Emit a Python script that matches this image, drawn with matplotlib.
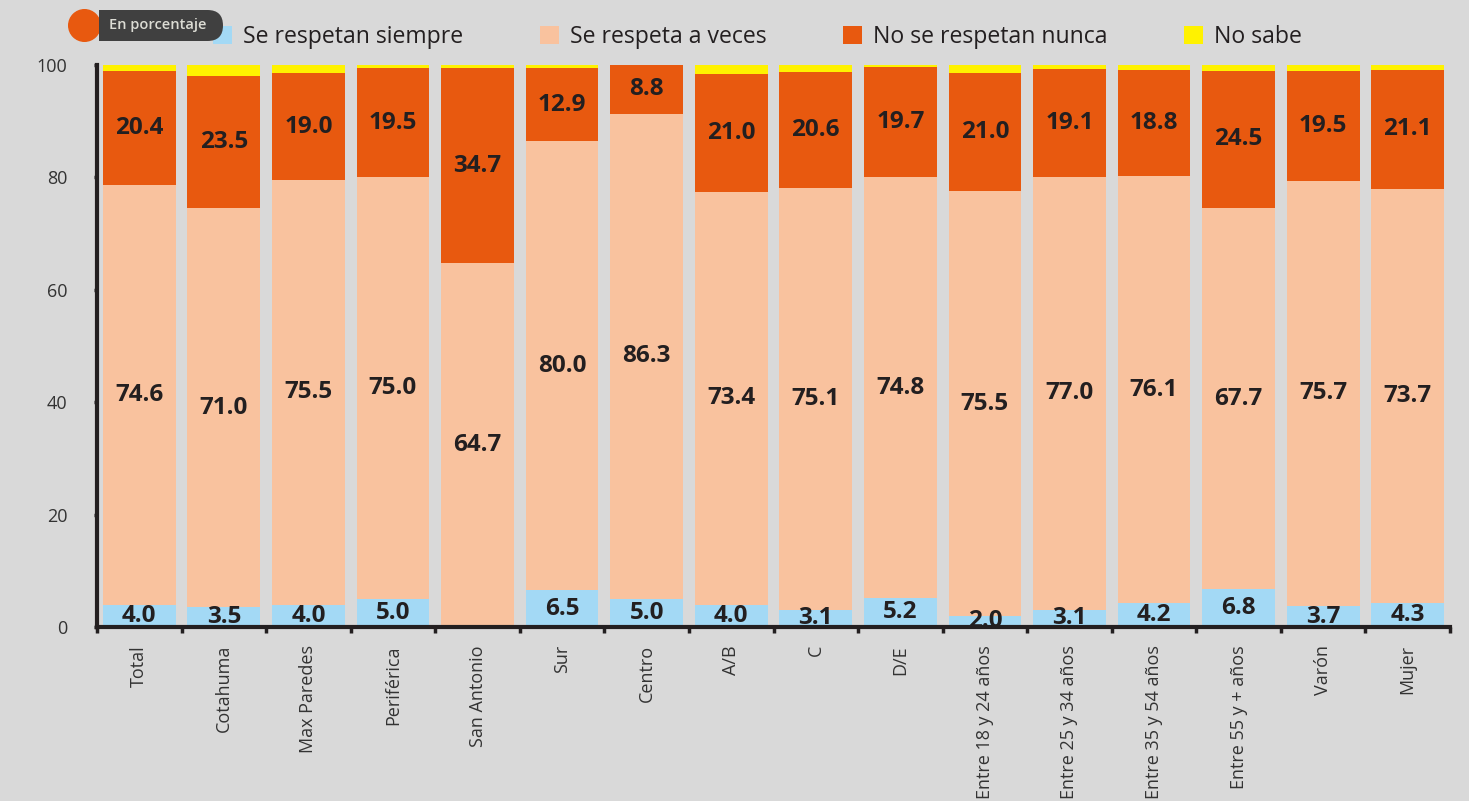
import matplotlib
matplotlib.use("Agg")
import matplotlib.pyplot as plt
from matplotlib.patches import Patch, FancyBboxPatch, Rectangle, Circle
import numpy as np

plt.rcParams['font.family'] = ['Open Sans', 'DejaVu Sans']

categories = ["Total", "Cotahuma", "Max Paredes", "Periférica", "San Antonio",
              "Sur", "Centro", "A/B", "C", "D/E",
              "Entre 18 y 24 años", "Entre 25 y 34 años", "Entre 35 y 54 años",
              "Entre 55 y + años", "Varón", "Mujer"]

siempre = [4.0, 3.5, 4.0, 5.0, 0.0, 6.5, 5.0, 4.0, 3.1, 5.2, 2.0, 3.1, 4.2, 6.8, 3.7, 4.3]
a_veces = [74.6, 71.0, 75.5, 75.0, 64.7, 80.0, 86.3, 73.4, 75.1, 74.8, 75.5, 77.0, 76.1, 67.7, 75.7, 73.7]
nunca = [20.4, 23.5, 19.0, 19.5, 34.7, 12.9, 8.8, 21.0, 20.6, 19.7, 21.0, 19.1, 18.8, 24.5, 19.5, 21.1]
no_sabe = [1.0, 2.0, 1.5, 0.5, 0.6, 0.6, 0.0, 1.6, 1.2, 0.3, 1.5, 0.8, 0.9, 1.0, 1.1, 0.9]

series_names = ["Se respetan siempre", "Se respeta a veces", "No se respetan nunca", "No sabe"]
series_colors = ["#a3d9f5", "#f9c29e", "#e8590f", "#fff200"]

BG = "#d9d9d9"
INK = "#231f20"

W, H = 1469, 801
fig = plt.figure(figsize=(W / 100, H / 100), dpi=100, facecolor=BG)
ax = fig.add_axes([97 / W, 1 - 627 / H, (1450 - 97) / W, (627 - 65) / H])
ax.set_facecolor(BG)

x = np.arange(len(categories))
width = 0.86
bottom = np.zeros(len(categories))
all_series = [siempre, a_veces, nunca, no_sabe]
for i, (vals, color) in enumerate(zip(all_series, series_colors)):
    vals = np.array(vals)
    ax.bar(x, vals, width, bottom=bottom, color=color, zorder=2)
    if i < 3:
        for xi, v, b in zip(x, vals, bottom):
            if v > 0:
                ax.text(xi, b + v / 2, f"{v:.1f}", ha="center", va="center",
                        fontsize=17.5, fontweight="bold", color=INK, zorder=3,
                        clip_on=True)
    bottom += vals

ax.set_xlim(-0.5, len(categories) - 0.5)
ax.set_ylim(0, 100)
ax.set_yticks([0, 20, 40, 60, 80, 100])
ax.tick_params(axis="y", length=2.5, width=2.5, color=INK, direction="out",
               pad=19, labelsize=13, labelcolor="#333333")

ax.set_xticks(x)
ax.set_xticklabels(categories, rotation=90, fontsize=13, color="#333333")
ax.set_xticks(np.arange(-0.5, len(categories)), minor=True)
ax.tick_params(axis="x", which="major", length=0, pad=13)
ax.tick_params(axis="x", which="minor", length=4, width=2.5, color=INK, direction="out")

for s in ["top", "right"]:
    ax.spines[s].set_visible(False)
for s in ["left", "bottom"]:
    ax.spines[s].set_linewidth(3)
    ax.spines[s].set_color(INK)
    ax.spines[s].set_zorder(5)
ax.spines["left"].set_bounds(0, 100)

# Legend across the top
handles = [Patch(facecolor=c, edgecolor="none") for c in series_colors]
leg = fig.legend(handles, series_names, loc="center left",
                 bbox_to_anchor=(213 / W, 1 - 37 / H), ncol=4, frameon=False,
                 fontsize=16.6, handlelength=0.82, handleheight=0.82,
                 handletextpad=0.5, columnspacing=3.3, borderaxespad=0,
                 borderpad=0)
for t in leg.get_texts():
    t.set_color(INK)
leg.set_zorder(5)

# "En porcentaje" badge
ov = fig.add_axes([0, 0, 1, 1])
ov.set_xlim(0, W)
ov.set_ylim(H, 0)
ov.axis("off")
ov.patch.set_alpha(0)
ov.set_zorder(10)
ov.add_patch(Circle((84.5, 25.5), 15.8, color="#e8590f"))
ov.add_patch(FancyBboxPatch((100, 10), 223 - 100, 31,
                            boxstyle="round,pad=0,rounding_size=15.5",
                            facecolor="#404040", edgecolor="none"))
ov.add_patch(Rectangle((99.5, 10), 20, 31, facecolor="#404040", edgecolor="none"))
ov.text(158, 25, "En porcentaje", ha="center", va="center",
        fontsize=10.5, fontweight="semibold", color="#dcdcd4")

fig.savefig("out.png", dpi=100, facecolor=BG)
